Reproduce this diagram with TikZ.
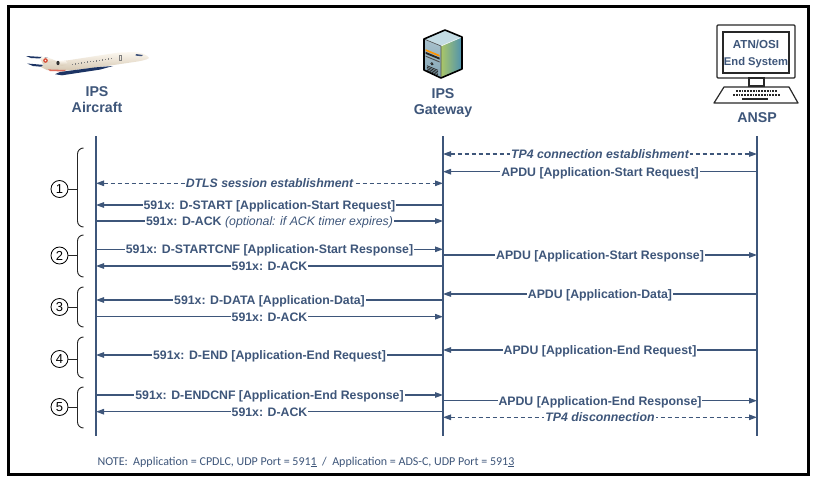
\documentclass[tikz,border=0pt]{standalone}
\usepackage{fontspec}
\setmainfont{Liberation Sans}
\newfontfamily\notefont{Carlito}
\usetikzlibrary{arrows.meta}

\definecolor{seq}{RGB}{62,86,122}
\definecolor{navy}{RGB}{28,52,100}
\definecolor{planetop}{RGB}{252,248,240}
\definecolor{planebot}{RGB}{214,200,178}
\definecolor{logo}{RGB}{214,70,48}
\definecolor{srvtop}{RGB}{196,220,228}
\definecolor{srvfront}{RGB}{132,166,182}
\definecolor{srvgreen}{RGB}{170,198,104}
\definecolor{srvblue}{RGB}{78,146,176}
\definecolor{monline}{RGB}{40,40,40}

\newcommand\msgfont{\bfseries\fontsize{12.3}{14}\selectfont}
% one message between two lifelines at height #2
\newcommand\seqmsg[5]{\draw[#1] (#3 |- 0,#2) -- node[lbl]{#5} (#4 |- 0,#2);}
% a numbered phase bracket: name, top, middle, bottom, number
\newcommand\phase[5]{%
  \node[phasenum] (#1) at (59.5,#3) {#5};
  \draw[brace] (83.5,#2) to[out=180,in=90] (77.5,#2+6) -- (77.5,#4-6) to[out=-90,in=180] (83.5,#4);
  \draw[brace] (#1.east) -- (77.5,#3);}

\begin{document}
\begin{tikzpicture}[x=1pt,y=-1pt,
  lifeline/.style={draw=seq, line width=2.4pt},
  msg/.style={draw=seq, line width=1.15pt, -{Triangle[length=8pt,width=5.5pt]}},
  bimsg/.style={draw=seq, line width=1.15pt, {Triangle[length=8pt,width=5.5pt]}-{Triangle[length=8pt,width=5.5pt]}, dash pattern=on 4.5pt off 2.5pt},
  lbl/.style={fill=white, text=seq, font=\msgfont, inner xsep=1pt, inner ysep=0.6pt, text height=8.8pt, text depth=0pt},
  hdr/.style={text=seq, align=center, font=\bfseries\fontsize{14.2}{16.7}\selectfont},
  phasenum/.style={circle, draw=black, line width=0.8pt, inner sep=0pt, minimum size=17pt, font=\fontsize{13}{14}\selectfont},
  brace/.style={draw=black!85, line width=0.9pt},
  mon/.style={draw=monline, line width=1.2pt},
]
\useasboundingbox (0,0) rectangle (815,479);
\fill[white] (0,0) rectangle (815,479);

% ---------------- aircraft ----------------
\fill[navy] (26,56) -- (47,57.3) -- (50,59) -- (31,58) -- cycle;
\fill[navy] (27,63.5) -- (54,65.8) -- (56,68) -- (33,66) -- cycle;
\shade[top color=planetop, bottom color=planebot] (43,64) -- (40,58.5) -- (41.5,57) -- (48,57.5) -- (59,62) -- cycle;
\shade[top color=planetop, bottom color=planebot]
  (149,58) .. controls (147,55) and (142,52.3) .. (134,52) -- (118,52.6) -- (70,60) -- (50,62.5)
  -- (44,64) -- (41,67) -- (47,70) -- (70,70.5) -- (100,67) -- (130,62.6)
  .. controls (140,61.2) and (147,60) .. (149,58) -- cycle;
\fill[logo] (45.5,60.5) circle (2.3);
\fill[planetop] (45.5,60.5) circle (0.9);
\shade[top color=planetop, bottom color=planebot] (62,63) ellipse (5.5 and 2.6);
\fill[black!80] (58,63) ellipse (1.6 and 2.2);
\fill[logo!80] (48,69.4) -- (66,70) -- (64,71.4) -- (50,71.1) -- cycle;
\fill[navy] (113,66) -- (100,69.6) -- (62,75.3) -- (55,74.2) -- (60,72) -- (95,67.4) -- cycle;
\foreach \i in {0,...,13} \fill[black!50] (72+3*\i,63.6-0.43*\i) rectangle ++(1.3,1.4);
\draw[black!50, line width=0.5pt] (119,55) rectangle (121.3,60.5);
\fill[navy!85] (136,54) -- (143,55) -- (141.5,56.2) -- (135.5,55.6) -- cycle;

% ---------------- gateway server ----------------
\fill[srvtop] (424,39) -- (445,30) -- (462,37) -- (441,46) -- cycle;
\shade[top color=srvfront!70!white, bottom color=srvfront] (424,39) -- (441,46) -- (441,78) -- (424,70) -- cycle;
\shade[left color=srvgreen, right color=srvblue] (441,46) -- (462,37) -- (462,69) -- (441,78) -- cycle;
\begin{scope}[shift={(424,39)}, yslant=-0.412]
  \fill[orange!85!yellow] (1.5,9.5) rectangle (15.5,11.3);
  \fill[black!85] (1.5,12.2) rectangle (15.5,14.2);
  \fill[black!70] (1.5,16) rectangle (15.5,17);
  \filldraw[draw=black, fill=black!40, line width=0.5pt] (8,21.5) circle (1.2);
  \foreach \v in {25.5,27,28.5,30} \draw[black!85, line width=0.7pt] (3,\v) -- (14,\v);
\end{scope}
\draw[white!80!srvtop, line width=0.6pt] (441,46) -- (462,37);
\draw[black!70, line width=0.6pt] (424,39) -- (441,46) -- (441,78);
\draw[black, line width=1.6pt, line join=round]
  (424,39) -- (445,30) -- (462,37) -- (462,69) -- (441,78) -- (424,70) -- cycle;

% ---------------- ANSP terminal ----------------
\draw[mon, rounded corners=1pt] (717,25) rectangle (795,78);
\draw[mon] (723,32) rectangle (789,73);
\draw[mon] (749,78) rectangle (764,86);
\draw[mon, line join=round] (724,87) -- (789,87) -- (798,103) -- (714,103) -- cycle;
\draw[monline, line width=2.2pt, dash pattern=on 1.8pt off 1pt] (736,90.6) -- (777,90.6);
\draw[monline, line width=2.2pt, dash pattern=on 1.8pt off 1pt] (733,94.6) -- (780,94.6);
\draw[monline, line width=2pt] (742,99.2) -- (768,99.2);
\node[anchor=base, text=seq, font=\bfseries\fontsize{11.6}{13}\selectfont] (atn) at (756,48) {ATN/OSI};
\node[anchor=base, text=seq, font=\bfseries\fontsize{11.2}{13}\selectfont] (es) at (756,65) {End System};

% ---------------- headers ----------------
\node[hdr] (acL) at (97,99.7) {IPS\\Aircraft};
\node[hdr] (gwL) at (443,103) {IPS\\Gateway};
\node[hdr] (anL) at (757,118) {ANSP};

% ---------------- lifelines ----------------
\coordinate (ac) at (96,136);
\coordinate (gw) at (443,136);
\coordinate (an) at (757,136);
\coordinate (acB) at (96,436);
\coordinate (gwB) at (443,436);
\coordinate (anB) at (757,436);
\draw[lifeline] (ac) -- (acB);
\draw[lifeline] (gw) -- (gwB);
\draw[lifeline] (an) -- (anB);

% ---------------- messages ----------------
\seqmsg{bimsg}{154}{gw}{an}{\itshape TP4 connection establishment}
\seqmsg{msg}{171.7}{an}{gw}{APDU [Application-Start Request]}
\seqmsg{bimsg}{183.3}{ac}{gw}{\itshape DTLS session establishment}
\seqmsg{msg}{205}{gw}{ac}{591x: D-START [Application-Start Request]}
\seqmsg{msg}{221}{ac}{gw}{591x: D-ACK {\mdseries\itshape (optional: if ACK timer expires)}}
\seqmsg{msg}{249.3}{ac}{gw}{591x: D-STARTCNF [Application-Start Response]}
\seqmsg{msg}{255}{gw}{an}{APDU [Application-Start Response]}
\seqmsg{msg}{266}{gw}{ac}{591x: D-ACK}
\seqmsg{msg}{294}{an}{gw}{APDU [Application-Data]}
\seqmsg{msg}{300}{gw}{ac}{591x: D-DATA [Application-Data]}
\seqmsg{msg}{316.7}{ac}{gw}{591x: D-ACK}
\seqmsg{msg}{350}{an}{gw}{APDU [Application-End Request]}
\seqmsg{msg}{355}{gw}{ac}{591x: D-END [Application-End Request]}
\seqmsg{msg}{395}{ac}{gw}{591x: D-ENDCNF [Application-End Response]}
\seqmsg{msg}{400.7}{gw}{an}{APDU [Application-End Response]}
\seqmsg{msg}{411.7}{gw}{ac}{591x: D-ACK}
\seqmsg{bimsg}{417.3}{gw}{an}{\itshape TP4 disconnection}

% ---------------- phases ----------------
\phase{p1}{148}{189}{227}{1}
\phase{p2}{235}{255.5}{277}{2}
\phase{p3}{287}{307}{327}{3}
\phase{p4}{337}{359}{378}{4}
\phase{p5}{387}{407}{428}{5}

% ---------------- note ----------------
\node[anchor=west, text=seq, font=\notefont\fontsize{12}{14}\selectfont] (note) at (94,462)
  {NOTE:\ \ Application = CPDLC, UDP Port = 591\underline{1}\ \ /\ \ Application = ADS-C, UDP Port = 591\underline{3}};

% ---------------- frame ----------------
\draw[black, line width=3pt] (8.7,6.2) rectangle (808.5,474.5);
\end{tikzpicture}
\end{document}
